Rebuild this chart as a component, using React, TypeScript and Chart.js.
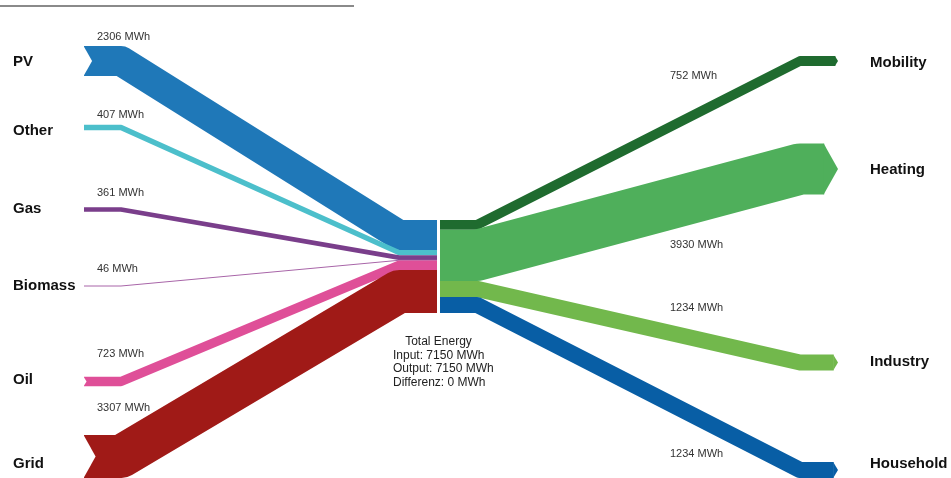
import React, { useEffect, useRef } from "react";
import { Chart, registerables } from "chart.js";

Chart.register(...registerables);

// ---------- data ----------
const sourceNames = ["PV", "Other", "Gas", "Biomass", "Oil", "Grid"];
const sourceValues = [2306, 407, 361, 46, 723, 3307];
const useNames = ["Mobility", "Heating", "Industry", "Household"];
const useValues = [752, 3930, 1234, 1234];
const unit = "MWh";
const centerTitle = "Total Energy";

// ---------- layout / style (not data) ----------
const sourceColors = ["#1f78b8", "#4cbfcb", "#7a3e8b", "#a865a8", "#df4f98", "#a01a17"];
const useColors = ["#1f6b2f", "#4faf5b", "#72b84c", "#085ea5"];
const sourceNodeY = [61, 127.5, 209.5, 286, 381.5, 456.5];
const useNodeY = [61, 169, 362.5, 470];
const sourceLabelY = [62, 131, 209, 286, 380, 464];
const useLabelY = [63, 170, 362, 464];
const sourceValueLabelY = [37, 115, 193, 269, 354, 408];
const useValueLabelY = [76, 245, 308, 454];
const STACK_TOP = 220;
const STACK_HEIGHT = 93;
const X_LEFT_END = 84;
const X_LEFT_KNEE = 121;
const X_LEFT_KNEE2 = 399;
const X_CENTER_L = 437;
const X_CENTER_R = 440;
const X_RIGHT_KNEE = 477;
const X_RIGHT_KNEE2 = 800;
const X_RIGHT_END = 838;
const ARROW_RATIO = 0.27;

const sankeyPlugin = {
  id: "sankeyPlugin",
  afterDatasetsDraw(chart: any) {
    const ctx: CanvasRenderingContext2D = chart.ctx;
    const xs = chart.scales.x;
    const ys = chart.scales.y;
    const X = (v: number) => xs.getPixelForValue(v);
    const Y = (v: number) => ys.getPixelForValue(v);
    const inTotal = sourceValues.reduce((a, b) => a + b, 0);
    const outTotal = useValues.reduce((a, b) => a + b, 0);
    const k = STACK_HEIGHT / Math.max(inTotal, outTotal);
    const thick = (v: number) => Math.abs(Y(STACK_TOP + v * k) - Y(STACK_TOP));

    ctx.save();
    // top decorative line
    ctx.strokeStyle = "#8a8a8a";
    ctx.lineWidth = 2;
    ctx.beginPath();
    ctx.moveTo(X(0), 6);
    ctx.lineTo(X(354), 6);
    ctx.stroke();

    ctx.lineJoin = "round";
    ctx.lineCap = "butt";

    // left flows
    let cum = 0;
    sourceValues.forEach((v, i) => {
      const t = Math.max(thick(v), 1);
      const cy = Y(STACK_TOP + (cum + v / 2) * k);
      cum += v;
      const ly = Y(sourceNodeY[i]);
      ctx.strokeStyle = sourceColors[i];
      ctx.lineWidth = t;
      ctx.beginPath();
      ctx.moveTo(X(X_LEFT_END), ly);
      ctx.lineTo(X(X_LEFT_KNEE), ly);
      ctx.lineTo(X(X_LEFT_KNEE2), cy);
      ctx.lineTo(X(X_CENTER_L), cy);
      ctx.stroke();
      // notch
      const d = thick(v) * ARROW_RATIO;
      if (d > 1.5) {
        ctx.save();
        ctx.globalCompositeOperation = "destination-out";
        ctx.fillStyle = "#000";
        ctx.beginPath();
        ctx.moveTo(X(X_LEFT_END) - 1, ly - t / 2 - 1);
        ctx.lineTo(X(X_LEFT_END) + d, ly);
        ctx.lineTo(X(X_LEFT_END) - 1, ly + t / 2 + 1);
        ctx.closePath();
        ctx.fill();
        ctx.restore();
      }
    });

    // right flows
    cum = 0;
    useValues.forEach((v, i) => {
      const t = Math.max(thick(v), 1);
      const cy = Y(STACK_TOP + (cum + v / 2) * k);
      cum += v;
      const ry = Y(useNodeY[i]);
      const d = t * ARROW_RATIO;
      ctx.strokeStyle = useColors[i];
      ctx.fillStyle = useColors[i];
      ctx.lineWidth = t;
      ctx.beginPath();
      ctx.moveTo(X(X_CENTER_R), cy);
      ctx.lineTo(X(X_RIGHT_KNEE), cy);
      ctx.lineTo(X(X_RIGHT_KNEE2), ry);
      ctx.lineTo(X(X_RIGHT_END) - d, ry);
      ctx.stroke();
      ctx.beginPath();
      ctx.moveTo(X(X_RIGHT_END) - d - 0.5, ry - t / 2);
      ctx.lineTo(X(X_RIGHT_END), ry);
      ctx.lineTo(X(X_RIGHT_END) - d - 0.5, ry + t / 2);
      ctx.closePath();
      ctx.fill();
    });

    // node labels
    ctx.fillStyle = "#111";
    ctx.font = "bold 15px 'Liberation Sans', Arial, sans-serif";
    ctx.textBaseline = "middle";
    ctx.textAlign = "left";
    sourceNames.forEach((n, i) => ctx.fillText(n, X(13), Y(sourceLabelY[i])));
    useNames.forEach((n, i) => ctx.fillText(n, X(870), Y(useLabelY[i])));

    // value labels
    ctx.fillStyle = "#333";
    ctx.font = "11px 'Liberation Sans', Arial, sans-serif";
    sourceValues.forEach((v, i) => ctx.fillText(`${v} ${unit}`, X(97), Y(sourceValueLabelY[i])));
    useValues.forEach((v, i) => ctx.fillText(`${v} ${unit}`, X(670), Y(useValueLabelY[i])));

    // center summary
    ctx.fillStyle = "#222";
    ctx.font = "12px 'Liberation Sans', Arial, sans-serif";
    ctx.textAlign = "center";
    ctx.fillText(centerTitle, X(438.5), Y(342));
    ctx.textAlign = "left";
    ctx.fillText(`Input: ${inTotal} ${unit}`, X(393), Y(355.5));
    ctx.fillText(`Output: ${outTotal} ${unit}`, X(393), Y(369));
    ctx.fillText(`Differenz: ${inTotal - outTotal} ${unit}`, X(393), Y(382.5));
    ctx.restore();
  },
};

export default function App() {
  const ref = useRef<HTMLCanvasElement | null>(null);
  useEffect(() => {
    document.body.style.margin = "0";
    const chart = new Chart(ref.current as HTMLCanvasElement, {
      type: "scatter",
      data: { datasets: [{ data: [], pointRadius: 0 }] },
      options: {
        animation: false,
        responsive: false,
        devicePixelRatio: 1,
        layout: { padding: 0 },
        plugins: { legend: { display: false }, tooltip: { enabled: false } },
        scales: {
          x: { type: "linear", min: 0, max: 951, display: false },
          y: { type: "linear", min: 0, max: 478, reverse: true, display: false },
        },
      },
      plugins: [sankeyPlugin],
    });
    return () => chart.destroy();
  }, []);
  return (
    <div style={{ width: 951, height: 478, background: "#fff" }}>
      <canvas ref={ref} width={951} height={478} />
    </div>
  );
}
